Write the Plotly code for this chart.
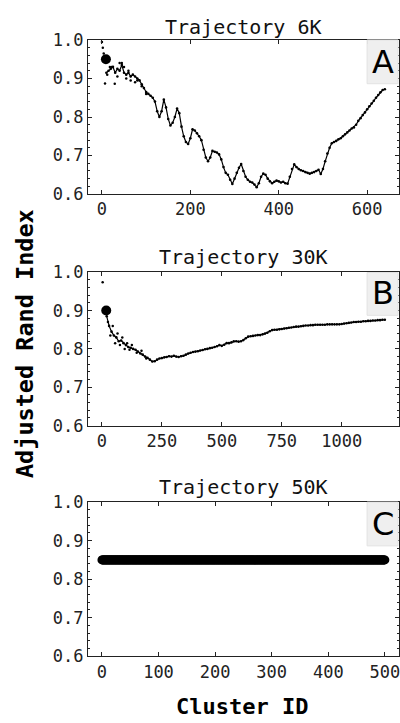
import plotly.graph_objects as go

# ---------------- data ----------------
# Panel A (Trajectory 6K)
a_x = list(range(10, 645, 5))
a_y = [0.915, 0.92, 0.925, 0.93, 0.915, 0.925, 0.92, 0.935, 0.915, 0.91,
       0.915, 0.905, 0.91, 0.905, 0.9, 0.895, 0.885, 0.875, 0.865, 0.86,
       0.855, 0.85, 0.84, 0.815, 0.80, 0.815, 0.845, 0.825, 0.795, 0.778,
       0.785, 0.80, 0.822, 0.81, 0.775, 0.75, 0.735, 0.73, 0.745, 0.768,
       0.765, 0.758, 0.75, 0.74, 0.715, 0.695, 0.685, 0.695, 0.712, 0.71,
       0.708, 0.703, 0.69, 0.67, 0.655, 0.65, 0.637, 0.626, 0.64, 0.655,
       0.668, 0.678, 0.66, 0.645, 0.637, 0.632, 0.63, 0.625, 0.618, 0.628,
       0.645, 0.653, 0.65, 0.64, 0.633, 0.628, 0.632, 0.635, 0.633, 0.63,
       0.632, 0.628, 0.627, 0.645, 0.665, 0.677, 0.67, 0.665, 0.662, 0.66,
       0.657, 0.655, 0.653, 0.655, 0.657, 0.66, 0.663, 0.652, 0.665, 0.685,
       0.705, 0.72, 0.732, 0.735, 0.738, 0.742, 0.745, 0.75, 0.755, 0.76,
       0.765, 0.77, 0.773, 0.78, 0.79, 0.797, 0.805, 0.812, 0.82, 0.828,
       0.835, 0.842, 0.85, 0.857, 0.864, 0.87, 0.872]
a_scatter_x = [0, 2, 4, 7, 12, 18, 22, 29, 35, 40, 45, 50, 55, 60, 65, 75, 80, 90, 100]
a_scatter_y = [0.995, 0.98, 0.965, 0.887, 0.91, 0.93, 0.93, 0.886, 0.905, 0.94,
               0.94, 0.93, 0.90, 0.92, 0.895, 0.89, 0.895, 0.88, 0.86]
a_best_x = [9]
a_best_y = [0.95]

# Panel B (Trajectory 30K)
b_x = list(range(20, 1190, 10))
b_y = [0.885, 0.86, 0.845, 0.835, 0.83, 0.82, 0.822, 0.815, 0.81, 0.805,
       0.803, 0.8, 0.798, 0.793, 0.788, 0.785, 0.78, 0.777, 0.772, 0.767,
       0.768, 0.772, 0.775, 0.776, 0.778, 0.779, 0.781, 0.78, 0.782, 0.78,
       0.779, 0.781, 0.782, 0.785, 0.788, 0.79, 0.792, 0.793, 0.794, 0.796,
       0.797, 0.799, 0.8, 0.802, 0.803, 0.805, 0.807, 0.81, 0.808, 0.811,
       0.815, 0.815, 0.817, 0.82, 0.82, 0.819, 0.82, 0.823, 0.828, 0.832,
       0.833, 0.834, 0.835, 0.836, 0.836, 0.838, 0.84, 0.842, 0.846, 0.849,
       0.85, 0.85, 0.851, 0.852, 0.853, 0.854, 0.855, 0.856, 0.857, 0.858,
       0.858, 0.859, 0.86, 0.861, 0.861, 0.862, 0.862, 0.863, 0.863, 0.863,
       0.863, 0.863, 0.864, 0.864, 0.864, 0.864, 0.864, 0.864, 0.865, 0.866,
       0.867, 0.868, 0.869, 0.87, 0.87, 0.871, 0.871, 0.872, 0.872, 0.873,
       0.873, 0.874, 0.874, 0.875, 0.875, 0.876, 0.876]
b_scatter_x = [3, 12, 25, 35, 45, 55, 65, 75, 85, 95, 105, 115, 125, 145, 165, 185]
b_scatter_y = [0.974, 0.905, 0.87, 0.835, 0.86, 0.815, 0.84, 0.81, 0.83, 0.80,
               0.815, 0.798, 0.81, 0.79, 0.795, 0.775]
b_best_x = [18]
b_best_y = [0.90]

# Panel C (Trajectory 50K)
c_x = list(range(0, 501))
c_y = [0.85] * len(c_x)

titles = ["Trajectory 6K", "Trajectory 30K", "Trajectory 50K"]
letters = ["A", "B", "C"]
x_ranges = [[-32, 672], [-59, 1239], [-25, 525]]
x_ticks = [[0, 200, 400, 600], [0, 250, 500, 750, 1000], [0, 100, 200, 300, 400, 500]]
y_ticks = [0.6, 0.7, 0.8, 0.9, 1.0]

# ---------------- figure ----------------
W, H = 400, 723
fig = go.Figure()

MONO = "DejaVu Sans Mono"
# vertical pixel positions (top, bottom) of the three plot areas
px_domains = [(30.8, 189.3), (269.7, 427.4), (506.1, 664.6)]
title_y = [17.5, 253.7, 490.8]
box_y = [(30.8, 75.8), (270.0, 314.0), (506.1, 551.1)]
letter_y = [53.3, 291.5, 528.6]
xdom = [88 / W, 1.0]

def py(v):
    return 1 - v / H

def mk(x, y, size, name, xa, ya, mode="markers"):
    return go.Scatter(x=x, y=y, mode=mode, name=name, xaxis=xa, yaxis=ya,
                      marker=dict(color="black", size=size, line=dict(width=0)),
                      line=dict(color="black", width=1.2),
                      showlegend=False, hoverinfo="skip")

# A
fig.add_trace(mk(a_scatter_x, a_scatter_y, 2.5, "A scatter", "x", "y"))
fig.add_trace(mk(a_x, a_y, 2.6, "A", "x", "y", mode="lines+markers"))
fig.add_trace(mk(a_best_x, a_best_y, 10, "A best", "x", "y"))
# B
fig.add_trace(mk(b_scatter_x, b_scatter_y, 2.5, "B scatter", "x2", "y2"))
fig.add_trace(mk(b_x, b_y, 2.6, "B", "x2", "y2", mode="lines+markers"))
fig.add_trace(mk(b_best_x, b_best_y, 10, "B best", "x2", "y2"))
# C
fig.add_trace(mk(c_x, c_y, 9, "C", "x3", "y3"))

axis_common = dict(showgrid=False, zeroline=False, showline=True, linecolor="#222",
                   linewidth=1, mirror="ticks", ticks="inside", tickcolor="#222",
                   tickwidth=1, ticklabeloverflow="allow",
                   tickfont=dict(family=MONO, size=17, color="#222"))

layout = dict(width=W, height=H, plot_bgcolor="white", paper_bgcolor="white",
              autosize=False, margin=dict(l=0, r=0, t=0, b=0), showlegend=False)

shapes = []
annotations = []
for i in range(3):
    sfx = "" if i == 0 else str(i + 1)
    t, b = px_domains[i]
    layout["xaxis" + sfx] = dict(axis_common, domain=xdom, range=x_ranges[i],
                                 tickvals=x_ticks[i], ticklen=4,
                                 anchor="y" + sfx)
    layout["yaxis" + sfx] = dict(axis_common, domain=[py(b), py(t)], range=[0.6, 1.0],
                                 tickvals=y_ticks, ticktext=["%.1f" % v for v in y_ticks],
                                 ticklen=4, anchor="x" + sfx,
                                 minor=dict(dtick=0.02, ticks="inside", ticklen=2,
                                            tickcolor="#222", showgrid=False))
    annotations.append(dict(text=titles[i], x=(88 + 400) / 2 / W, y=py(title_y[i]),
                            xref="paper", yref="paper", showarrow=False,
                            font=dict(family=MONO, size=20, color="#111"),
                            xanchor="center", yanchor="middle"))
    shapes.append(dict(type="rect", xref="paper", yref="paper",
                       x0=368 / W, x1=399 / W, y0=py(box_y[i][1]), y1=py(box_y[i][0]),
                       fillcolor="#efefef", line=dict(color="#e2e2e2", width=1),
                       layer="above"))
    annotations.append(dict(text=letters[i], x=384 / W, y=py(letter_y[i]),
                            xref="paper", yref="paper", showarrow=False,
                            font=dict(family="DejaVu Sans", size=32, color="black"),
                            xanchor="center", yanchor="middle"))

annotations.append(dict(text="<b>Adjusted Rand Index</b>", x=25 / W, y=py(342.6),
                        xref="paper", yref="paper", showarrow=False, textangle=-90,
                        font=dict(family=MONO, size=23.5, color="black"),
                        xanchor="center", yanchor="middle"))
annotations.append(dict(text="<b>Cluster ID</b>", x=243 / W, y=py(716),
                        xref="paper", yref="paper", showarrow=False,
                        font=dict(family=MONO, size=22, color="black"),
                        xanchor="center", yanchor="middle"))

layout["shapes"] = shapes
layout["annotations"] = annotations
fig.update_layout(**layout)
post = ("var d=document.documentElement,b=document.body;"
        "d.style.margin='0';d.style.padding='0';d.style.overflow='hidden';"
        "b.style.margin='0';b.style.padding='0';b.style.overflow='hidden';"
        "var g=document.getElementById('{plot_id}');"
        "g.style.position='fixed';g.style.left='0px';g.style.top='0px';")
fig.write_html("out.html", config={"displayModeBar": False, "responsive": False},
               post_script=post)
